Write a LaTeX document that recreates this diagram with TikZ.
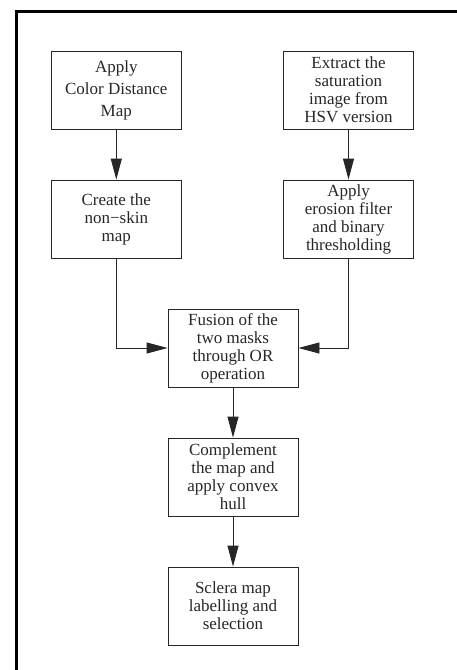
\documentclass[tikz,border=0pt]{standalone}
\usepackage{fontspec}
\setmainfont{Liberation Serif}
\usetikzlibrary{arrows.meta, positioning}

\begin{document}
\begin{tikzpicture}[
        x=1pt, y=-1pt,
        -{Triangle[length=21pt,width=11pt]},
        line width=0.9pt,
        color=black!85,
        node distance=129pt,
        stage/.style={draw, rectangle, minimum width=130pt, minimum height=78pt,
            inner sep=2pt, align=center, font=\fontsize{17}{18}\selectfont}]

    \useasboundingbox (0,0) rectangle (457,670);
    \draw [-, line width=3pt, black] (16.5,670) -- (16.5,11.5) -- (457,11.5);

    \node [stage]  (cdm)     at (116.3,90)  {Apply\\[4pt]Color Distance\\[4pt]Map};
    \node [stage]  (sat)     at (348.5,90)  {Extract the\\saturation\\image from\\HSV version};
    \node [stage]  (nonskin) [below of=cdm] {Create the\\non−skin\\map};
    \node [stage]  (erode)   [below of=sat] {Apply\\erosion filter\\and binary\\thresholding};
    \node [stage]  (fuse)    at (233,348)   {Fusion of the\\two masks\\through OR\\operation};
    \node [stage]  (hull)    [below of=fuse] {Complement\\the map and\\apply convex\\hull};
    \node [stage]  (label)   [below of=hull] {Sclera map\\labelling and\\selection};

    \path (cdm)  edge (nonskin)
          (sat)  edge (erode)
          (fuse) edge (hull)
          (hull) edge (label);
    \draw (nonskin) |- (fuse);
    \draw (erode)   |- (fuse);
\end{tikzpicture}
\end{document}
